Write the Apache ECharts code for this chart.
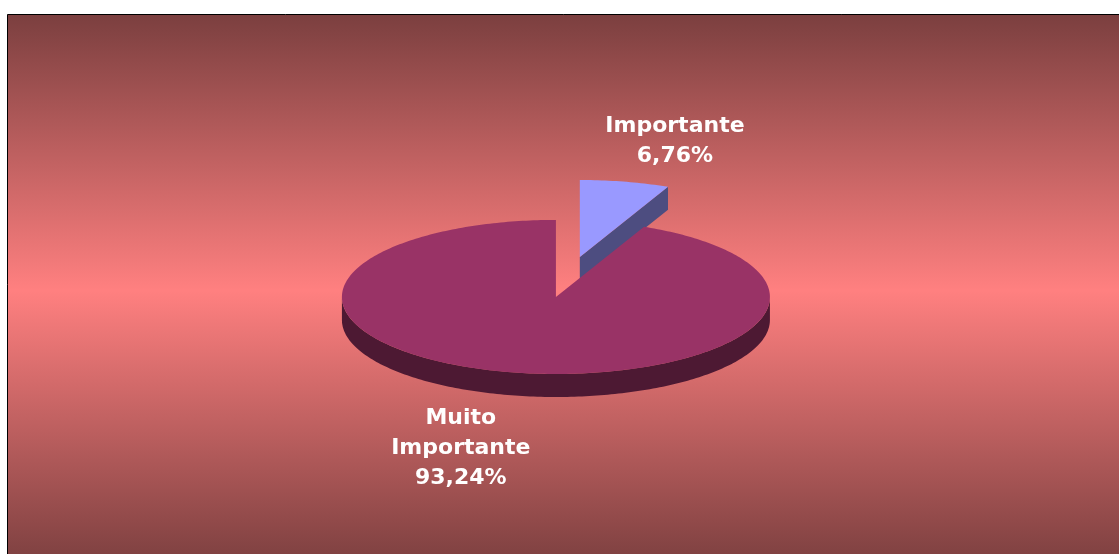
<!DOCTYPE html>
<html>
<head>
<meta charset="utf-8">
<script src="https://cdn.jsdelivr.net/npm/echarts@6/dist/echarts.min.js"></script>
<style>
  html, body { margin: 0; padding: 0; background: #ffffff; }
  #chart { width: 1119px; height: 554px; }
</style>
</head>
<body>
<div id="chart"></div>
<script>
// Pie data: share of answers per importance level
const categories = ['Importante', 'Muito Importante'];
const values = [6.76, 93.24];
const explodeFlags = [true, false];

const topColors = ['#9999ff', '#993366'];
const sideColors = ['#4d4d80', '#4d1933'];

const DEG = Math.PI / 180;
const total = values.reduce((a, b) => a + b, 0);

// Slices run clockwise from 12 o'clock; angles are in degrees, counter-clockwise from +x
const slices = [];
let acc = 0;
values.forEach((v, i) => {
  const a0 = 90 - (acc / total) * 360;
  acc += v;
  const a1 = 90 - (acc / total) * 360;
  slices.push({ a0, a1, mid: (a0 + a1) / 2 });
});

function formatLabel(name, v) {
  return name.replace(' ', '\n') + '\n' + v.toFixed(2).replace('.', ',') + '%';
}

const chart = echarts.init(document.getElementById('chart'), null, { renderer: 'canvas' });

function renderItem(params, api) {
  const i = params.dataIndex;
  const W = api.getWidth();
  const H = api.getHeight();
  const R = 214;          // horizontal radius
  const k = 0.36;         // vertical squash of the tilted disc
  const depth = 23;       // thickness of the disc
  const explode = 0.53;   // explosion distance as a fraction of R
  const s = slices[i];
  let cx = W * 0.4968;
  let cy = H * 0.536;
  if (explodeFlags[i]) {
    cx += explode * R * Math.cos(s.mid * DEG);
    cy -= explode * R * k * Math.sin(s.mid * DEG);
  }
  const pt = (a, dy) => [cx + R * Math.cos(a * DEG), cy - R * k * Math.sin(a * DEG) + (dy || 0)];
  const arc = (from, to, dy) => {
    const pts = [];
    const n = Math.max(2, Math.ceil(Math.abs(to - from)));
    for (let j = 0; j <= n; j++) pts.push(pt(from + (to - from) * j / n, dy));
    return pts;
  };
  const base = Math.round((1 - Math.sin(s.mid * DEG)) * 10) * 10;
  const children = [];
  const side = sideColors[i];

  // outer wall: only the part facing the viewer (sin < 0)
  for (let n = -2; n <= 1; n++) {
    const lo = Math.max(s.a1, 180 + 360 * n);
    const hi = Math.min(s.a0, 360 + 360 * n);
    if (hi > lo) {
      const top = arc(lo, hi, 0);
      const bottom = arc(hi, lo, depth);
      children.push({ type: 'polygon', z2: base, shape: { points: top.concat(bottom) }, style: { fill: side } });
    }
  }
  // radial cut faces that turn toward the viewer
  const radial = (a) => {
    const p = pt(a, 0);
    return [[cx, cy], p, [p[0], p[1] + depth], [cx, cy + depth]];
  };
  if (Math.cos(s.a0 * DEG) < -1e-6) {
    children.push({ type: 'polygon', z2: base + 1, shape: { points: radial(s.a0) }, style: { fill: side } });
  }
  if (Math.cos(s.a1 * DEG) > 1e-6) {
    children.push({ type: 'polygon', z2: base + 1, shape: { points: radial(s.a1) }, style: { fill: side } });
  }
  // top face
  const topPts = [[cx, cy]].concat(arc(s.a1, s.a0, 0));
  children.push({ type: 'polygon', z2: base + 2, shape: { points: topPts }, style: { fill: topColors[i] } });

  // label
  const sinM = Math.sin(s.mid * DEG);
  const cosM = Math.cos(s.mid * DEG);
  const anchor = pt(s.mid, sinM < 0 ? depth : 0);
  const lx = anchor[0] + (cosM >= 0 ? 50 : -50);
  const front = sinM < 0;
  children.push({
    type: 'text',
    z2: 200,
    style: {
      text: formatLabel(categories[i], api.value(0)),
      x: lx,
      y: front ? anchor[1] + 8 : anchor[1] - 10,
      fill: '#ffffff',
      font: 'bold 22px "DejaVu Sans"',
      align: 'center',
      textAlign: 'center',
      verticalAlign: front ? 'top' : 'bottom',
      textVerticalAlign: front ? 'top' : 'bottom',
      lineHeight: 30
    }
  });
  return { type: 'group', children };
}

chart.setOption({
  animation: false,
  backgroundColor: '#ffffff',
  graphic: [{
    type: 'rect',
    z: 0,
    silent: true,
    shape: { x: 7.5, y: 14.5, width: 1200, height: 552 },
    style: {
      fill: {
        type: 'linear', x: 0, y: 0, x2: 0, y2: 1,
        colorStops: [
          { offset: 0, color: '#7b3f3f' },
          { offset: 0.5, color: '#ff8080' },
          { offset: 1, color: '#7b3f3f' }
        ]
      },
      stroke: '#000000',
      lineWidth: 1
    }
  }],
  series: [{
    type: 'custom',
    coordinateSystem: 'none',
    z: 5,
    silent: true,
    renderItem,
    data: values.map((v, i) => ({ name: categories[i], value: [v] }))
  }]
});
</script>
</body>
</html>
